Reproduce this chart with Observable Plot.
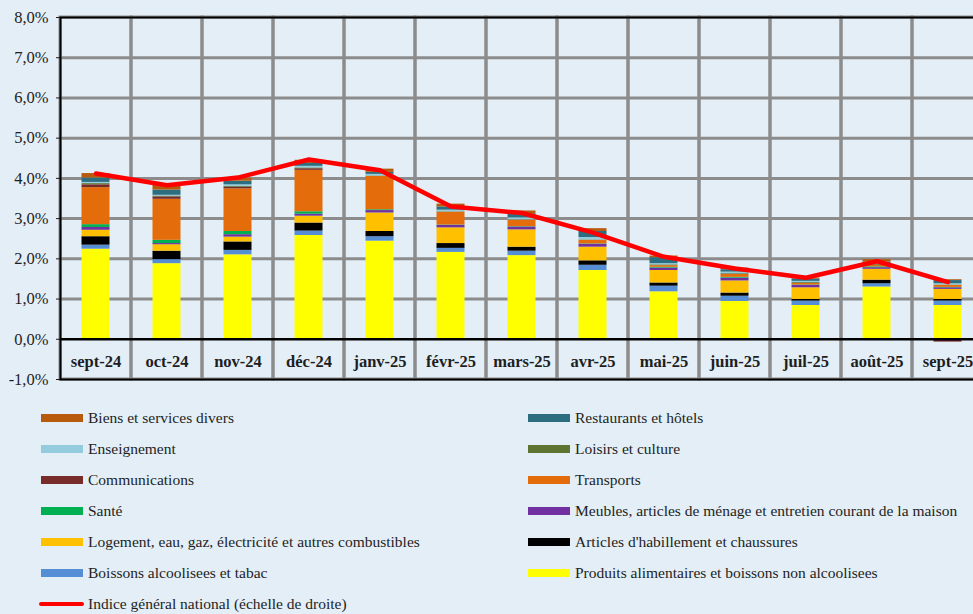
<!DOCTYPE html>
<html><head><meta charset="utf-8">
<script src="https://cdn.jsdelivr.net/npm/d3@7"></script>
<script src="https://cdn.jsdelivr.net/npm/@observablehq/plot@0.6"></script>
<style>
html,body{margin:0;padding:0;overflow:hidden;background:#E3EEF6;}
#wrap{position:relative;width:973px;height:614px;overflow:hidden;background:#E3EEF6;font-family:"Liberation Serif","Times New Roman",serif;color:#1e1e1e;}
#chart{position:absolute;left:0;top:0;width:990px;}
#chart svg{max-width:none !important;width:990px;height:392px;}
#legend{position:absolute;left:41px;top:402px;display:grid;grid-template-columns:487px 445px;grid-auto-rows:31px;font-size:15.5px;}
.item{display:flex;align-items:center;white-space:nowrap;}
.sw{width:42px;height:8px;margin-right:5px;flex:none;}
.ln{width:45px;height:4px;border-radius:2px;margin-left:-2px;margin-right:4px;background:#FF0000;flex:none;}
</style></head>
<body><div id="wrap"><div id="chart"></div><div id="legend"></div></div>
<script>
const months = ["sept-24","oct-24","nov-24","déc-24","janv-25","févr-25","mars-25","avr-25","mai-25","juin-25","juil-25","août-25","sept-25"];

// Series, bottom to top of each stack
const produits       = [2.24,1.88,2.10,2.58,2.44,2.16,2.08,1.71,1.18,0.94,0.84,1.30,0.84];
const boissons       = [0.10,0.10,0.11,0.11,0.11,0.10,0.11,0.13,0.14,0.13,0.11,0.08,0.11];
const habillement    = [0.21,0.21,0.21,0.20,0.13,0.12,0.10,0.11,0.08,0.08,0.04,0.09,0.04];
const logement       = [0.16,0.16,0.12,0.17,0.46,0.39,0.43,0.34,0.31,0.30,0.29,0.27,0.25];
const meubles        = [0.07,0.03,0.06,0.05,0.06,0.06,0.07,0.07,0.06,0.07,0.06,0.04,0.04];
const sante          = [0.07,0.08,0.08,0.06,0.02,0.01,0.01,0.01,0.02,0.02,0.01,0.02,0.01];
const transports     = [0.92,1.02,1.06,1.03,0.83,0.32,0.16,0.09,0.04,0.07,0.04,0.04,0.05];
const communications = [0.07,0.06,0.04,0.04,-0.03,-0.03,-0.03,-0.03,-0.03,-0.03,-0.03,-0.03,-0.07];
const loisirs        = [0.03,0.02,0.02,0.02,0.01,0.01,0.01,0.01,0.02,0.02,0.02,0.02,0.01];
const enseignement   = [0.03,0.02,0.04,0.04,0.04,0.04,0.05,0.06,0.03,0.04,0.03,0.02,0.03];
const restaurants    = [0.11,0.13,0.09,0.07,0.05,0.08,0.10,0.15,0.15,0.06,0.06,0.04,0.08];
const biens          = [0.11,0.12,0.07,0.08,0.08,0.07,0.07,0.07,0.04,0.04,0.02,0.06,0.02];
const indice         = [4.12,3.83,4.02,4.47,4.20,3.30,3.14,2.65,2.05,1.76,1.53,1.94,1.42];

const seriesNames = [
  "Produits alimentaires et boissons non alcoolisees",
  "Boissons alcoolisees et tabac",
  "Articles d'habillement et chaussures",
  "Logement, eau, gaz, électricité et autres combustibles",
  "Meubles, articles de ménage et entretien courant de la maison",
  "Santé",
  "Transports",
  "Communications",
  "Loisirs et culture",
  "Enseignement",
  "Restaurants et hôtels",
  "Biens et services divers"
];
const seriesValues = [produits,boissons,habillement,logement,meubles,sante,transports,communications,loisirs,enseignement,restaurants,biens];
const seriesColors = ["#FFFF00","#558ED5","#000000","#FFC000","#7030A0","#00B050","#E46C0A","#772C2A","#5E7431","#93CDDD","#2C6E80","#B85A0C"];
const lineName = "Indice général national (échelle de droite)";
const yTicks = [-1,0,1,2,3,4,5,6,7,8];

const table = [];
seriesNames.forEach((s, k) => months.forEach((m, i) => table.push({month: m, series: s, value: seriesValues[k][i]})));
const lineData = months.map((m, i) => ({month: m, value: indice[i]}));

const fmt = d => d.toFixed(1).replace(".", ",") + "%";

const chart = Plot.plot({
  width: 990, height: 392,
  marginLeft: 60, marginRight: 7, marginTop: 17, marginBottom: 13,
  style: {background: "transparent", fontFamily: "'Liberation Serif','Times New Roman',serif", fontSize: "16px", color: "#1e1e1e", maxWidth: "none"},
  x: {domain: months, padding: 0, axis: null, label: null},
  y: {domain: [-1, 8], axis: null, label: null},
  color: {domain: seriesNames, range: seriesColors},
  marks: [
    Plot.gridY(yTicks.filter(t => t > 0 && t < 8), {stroke: "#8C8C8C", strokeWidth: 3, strokeOpacity: 1}),
    Plot.barY(months, {x: d => d, y1: -1, y2: 8, fill: "none", stroke: "#8C8C8C", strokeWidth: 3}),
    Plot.barY(table, {x: "month", y: "value", fill: "series", insetLeft: 21.5, insetRight: 21.5}),
    Plot.ruleY([0], {stroke: "#000", strokeWidth: 2.5}),
    Plot.line(lineData, {x: "month", y: "value", stroke: "#FF0000", strokeWidth: 4.5, strokeLinejoin: "round"}),
    Plot.axisY(yTicks, {tickSize: 4, tickPadding: 8, tickFormat: fmt, fontSize: 16.5, label: null}),
    Plot.axisX({tickSize: 0, dy: -33, fontWeight: "bold", fontSize: 16.5, label: null}),
    Plot.frame({stroke: "#000", strokeWidth: 2})
  ]
});
document.getElementById("chart").appendChild(chart);

// Legend (Excel order: reversed series, two columns)
const legend = document.getElementById("legend");
const rev = seriesNames.map((s, k) => ({name: s, color: seriesColors[k]})).reverse();
rev.forEach(d => {
  const div = document.createElement("div");
  div.className = "item";
  div.innerHTML = `<span class="sw" style="background:${d.color}"></span><span>${d.name}</span>`;
  legend.appendChild(div);
});
const li = document.createElement("div");
li.className = "item";
li.innerHTML = `<span class="ln"></span><span>${lineName}</span>`;
legend.appendChild(li);
</script></body></html>
